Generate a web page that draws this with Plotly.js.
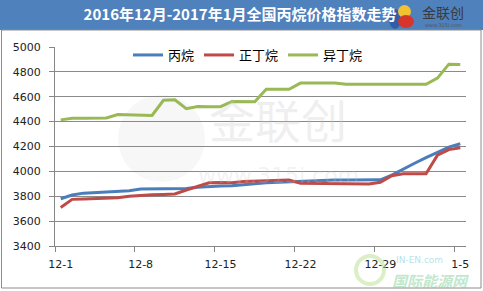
<!DOCTYPE html>
<html><head><meta charset="utf-8">
<script src="https://cdn.plot.ly/plotly-3.0.1.min.js"></script>
<style>html,body{margin:0;padding:0;background:#fff}#chart{width:483px;height:291px}</style>
</head><body><div id="chart"></div>
<script>
const dates = ['12-1','12-2','12-3','12-4','12-5','12-6','12-7','12-8','12-9','12-10','12-11','12-12','12-13','12-14','12-15','12-16','12-17','12-18','12-19','12-20','12-21','12-22','12-23','12-24','12-25','12-26','12-27','12-28','12-29','12-30','12-31','1-1','1-2','1-3','1-4','1-5'];
const tickLabels = ['12-1','12-8','12-15','12-22','12-29','1-5'];
const propane = [3780,3810,3825,3830,3835,3840,3845,3858,3860,3860,3860,3862,3872,3880,3882,3885,3890,3900,3908,3912,3915,3920,3928,3930,3930,3930,3930,3928,3932,3970,4020,4065,4110,4155,4195,4222];
const nbutane = [3710,3775,3778,3780,3783,3788,3800,3808,3812,3815,3818,3850,3882,3908,3910,3908,3918,3922,3925,3928,3930,3905,3903,3900,3898,3896,3894,3898,3912,3965,3980,3980,3980,4130,4175,4190];
const isobutane = [4414,4427,4428,4430,4430,4457,4455,4450,4450,4572,4575,4504,4522,4520,4520,4562,4560,4560,4660,4660,4660,4710,4710,4710,4710,4700,4700,4700,4700,4700,4700,4700,4700,4750,4862,4860];
const seriesNames = ['丙烷','正丁烷','异丁烷'];
const colors = ['#4A7EBB','#BE4B48','#98B954'];

const W=483,H=291,L=55,R=17,T=47,B=45;
const pw=W-L-R, ph=H-T-B;
const px=x=>(x-L)/pw, py=y=>(H-B-y)/ph;

const data = [propane,nbutane,isobutane].map((v,i)=>({
  x: dates, y: v, type:'scatter', mode:'lines', name: seriesNames[i],
  line:{color:colors[i], width:3}
}));
// invisible trace on boundary-tick axis
data.push({x:[0], y:[4000], xaxis:'x2', type:'scatter', mode:'markers', marker:{opacity:0}, showlegend:false, hoverinfo:'skip'});

const n = dates.length;
const bTicks = tickLabels.map(t=>dates.indexOf(t)-0.5);

const layout = {
  width:W, height:H,
  margin:{l:L, r:R, t:T, b:B, pad:0},
  paper_bgcolor:'#ffffff', plot_bgcolor:'rgba(0,0,0,0)',
  title:{text:'2016年12月-2017年1月全国丙烷价格指数走势', x:0.497, xref:'container', xanchor:'center', y:1-15/H, yref:'container', yanchor:'middle',
    font:{family:'"Noto Sans CJK SC", sans-serif', size:15, color:'#ffffff', weight:'bold'}},
  showlegend:true,
  legend:{orientation:'h', x:px(128), xanchor:'left', y:py(55), yanchor:'middle', bgcolor:'rgba(0,0,0,0)',
    font:{family:'"Noto Sans CJK SC", sans-serif', size:13, color:'#000'}, itemwidth:30, tracegroupgap:0},
  xaxis:{type:'category', range:[-0.5, n-0.5], tickmode:'array', tickvals:tickLabels, ticktext:tickLabels,
    ticks:'', showgrid:false, zeroline:false, showline:true, linecolor:'#868686', linewidth:1,
    tickfont:{family:'"DejaVu Sans", sans-serif', size:11, color:'#222'}, ticklabelstandoff:8, fixedrange:true},
  xaxis2:{overlaying:'x', side:'bottom', range:[-0.5, n-0.5], tickmode:'array', tickvals:bTicks, ticktext:bTicks.map(()=>''),
    ticks:'outside', ticklen:5, tickcolor:'#868686', showgrid:false, zeroline:false, showline:false, showticklabels:false},
  yaxis:{range:[3400,5000], dtick:200, tick0:3400, ticks:'outside', ticklen:5, tickcolor:'#868686',
    showgrid:true, gridcolor:'#8a8a8a', gridwidth:1, zeroline:false, showline:true, linecolor:'#868686', linewidth:1,
    tickfont:{family:'"DejaVu Sans", sans-serif', size:11, color:'#222'}, ticklabelstandoff:6, fixedrange:true},
  shapes:[
    {type:'rect', xref:'paper', yref:'paper', x0:px(0), x1:px(483), y0:py(0), y1:py(30), fillcolor:'#4F81BD', line:{width:0}, layer:'below'},
    {type:'rect', xref:'paper', yref:'paper', x0:px(1.5), x1:px(481), y0:py(30), y1:py(288), fillcolor:'rgba(0,0,0,0)', line:{width:1, color:'#8c8c8c'}, layer:'below'},
    // watermark circle logo
    {type:'circle', xref:'paper', yref:'paper', x0:px(118), x1:px(205), y0:py(95), y1:py(182), fillcolor:'rgba(200,200,200,0.15)', line:{width:0}, layer:'below'},
    // header logo blobs
    {type:'circle', xref:'paper', yref:'paper', x0:px(389), x1:px(401), y0:py(9), y1:py(29), fillcolor:'#2F5FA8', line:{width:0}},
    {type:'circle', xref:'paper', yref:'paper', x0:px(398), x1:px(411), y0:py(5), y1:py(18), fillcolor:'#F2C230', line:{width:0}},
    {type:'circle', xref:'paper', yref:'paper', x0:px(398), x1:px(414), y0:py(15), y1:py(28), fillcolor:'#D8352A', line:{width:0}},
    // IN-EN sun ring
    {type:'circle', xref:'paper', yref:'paper', x0:px(356), x1:px(384), y0:py(256), y1:py(284), fillcolor:'rgba(0,0,0,0)', line:{width:4, color:'rgba(190,225,150,0.55)'}}
  ],
  annotations:[
    {text:'金联创', xref:'paper', yref:'paper', x:px(443), y:py(12), xanchor:'center', yanchor:'middle', showarrow:false,
      font:{family:'"Noto Sans CJK SC", sans-serif', size:14, color:'#3a3a3a'}},
    {text:'www.315i.com', xref:'paper', yref:'paper', x:px(443), y:py(25.5), xanchor:'center', yanchor:'middle', showarrow:false,
      font:{family:'"DejaVu Sans", sans-serif', size:5, color:'#555'}},
    {text:'金联创', xref:'paper', yref:'paper', x:px(278), y:py(118), xanchor:'center', yanchor:'middle', showarrow:false,
      font:{family:'"Noto Sans CJK SC", sans-serif', size:46, color:'rgba(200,200,200,0.3)'}},
    {text:'www.315i.com', xref:'paper', yref:'paper', x:px(278), y:py(175), xanchor:'center', yanchor:'middle', showarrow:false,
      font:{family:'"DejaVu Sans", sans-serif', size:22, color:'rgba(200,200,200,0.22)'}},
    {text:'IN-EN.com', xref:'paper', yref:'paper', x:px(419), y:py(260), xanchor:'center', yanchor:'middle', showarrow:false,
      font:{family:'"DejaVu Sans", sans-serif', size:9, color:'rgba(120,200,210,0.55)'}},
    {text:'<i>国际能源网</i>', xref:'paper', yref:'paper', x:px(430), y:py(280), xanchor:'center', yanchor:'middle', showarrow:false,
      font:{family:'"Noto Sans CJK SC", sans-serif', size:15, color:'rgba(140,210,160,0.55)', weight:'bold'}}
  ]
};
Plotly.newPlot('chart', data, layout, {displayModeBar:false, staticPlot:true});
</script></body></html>
